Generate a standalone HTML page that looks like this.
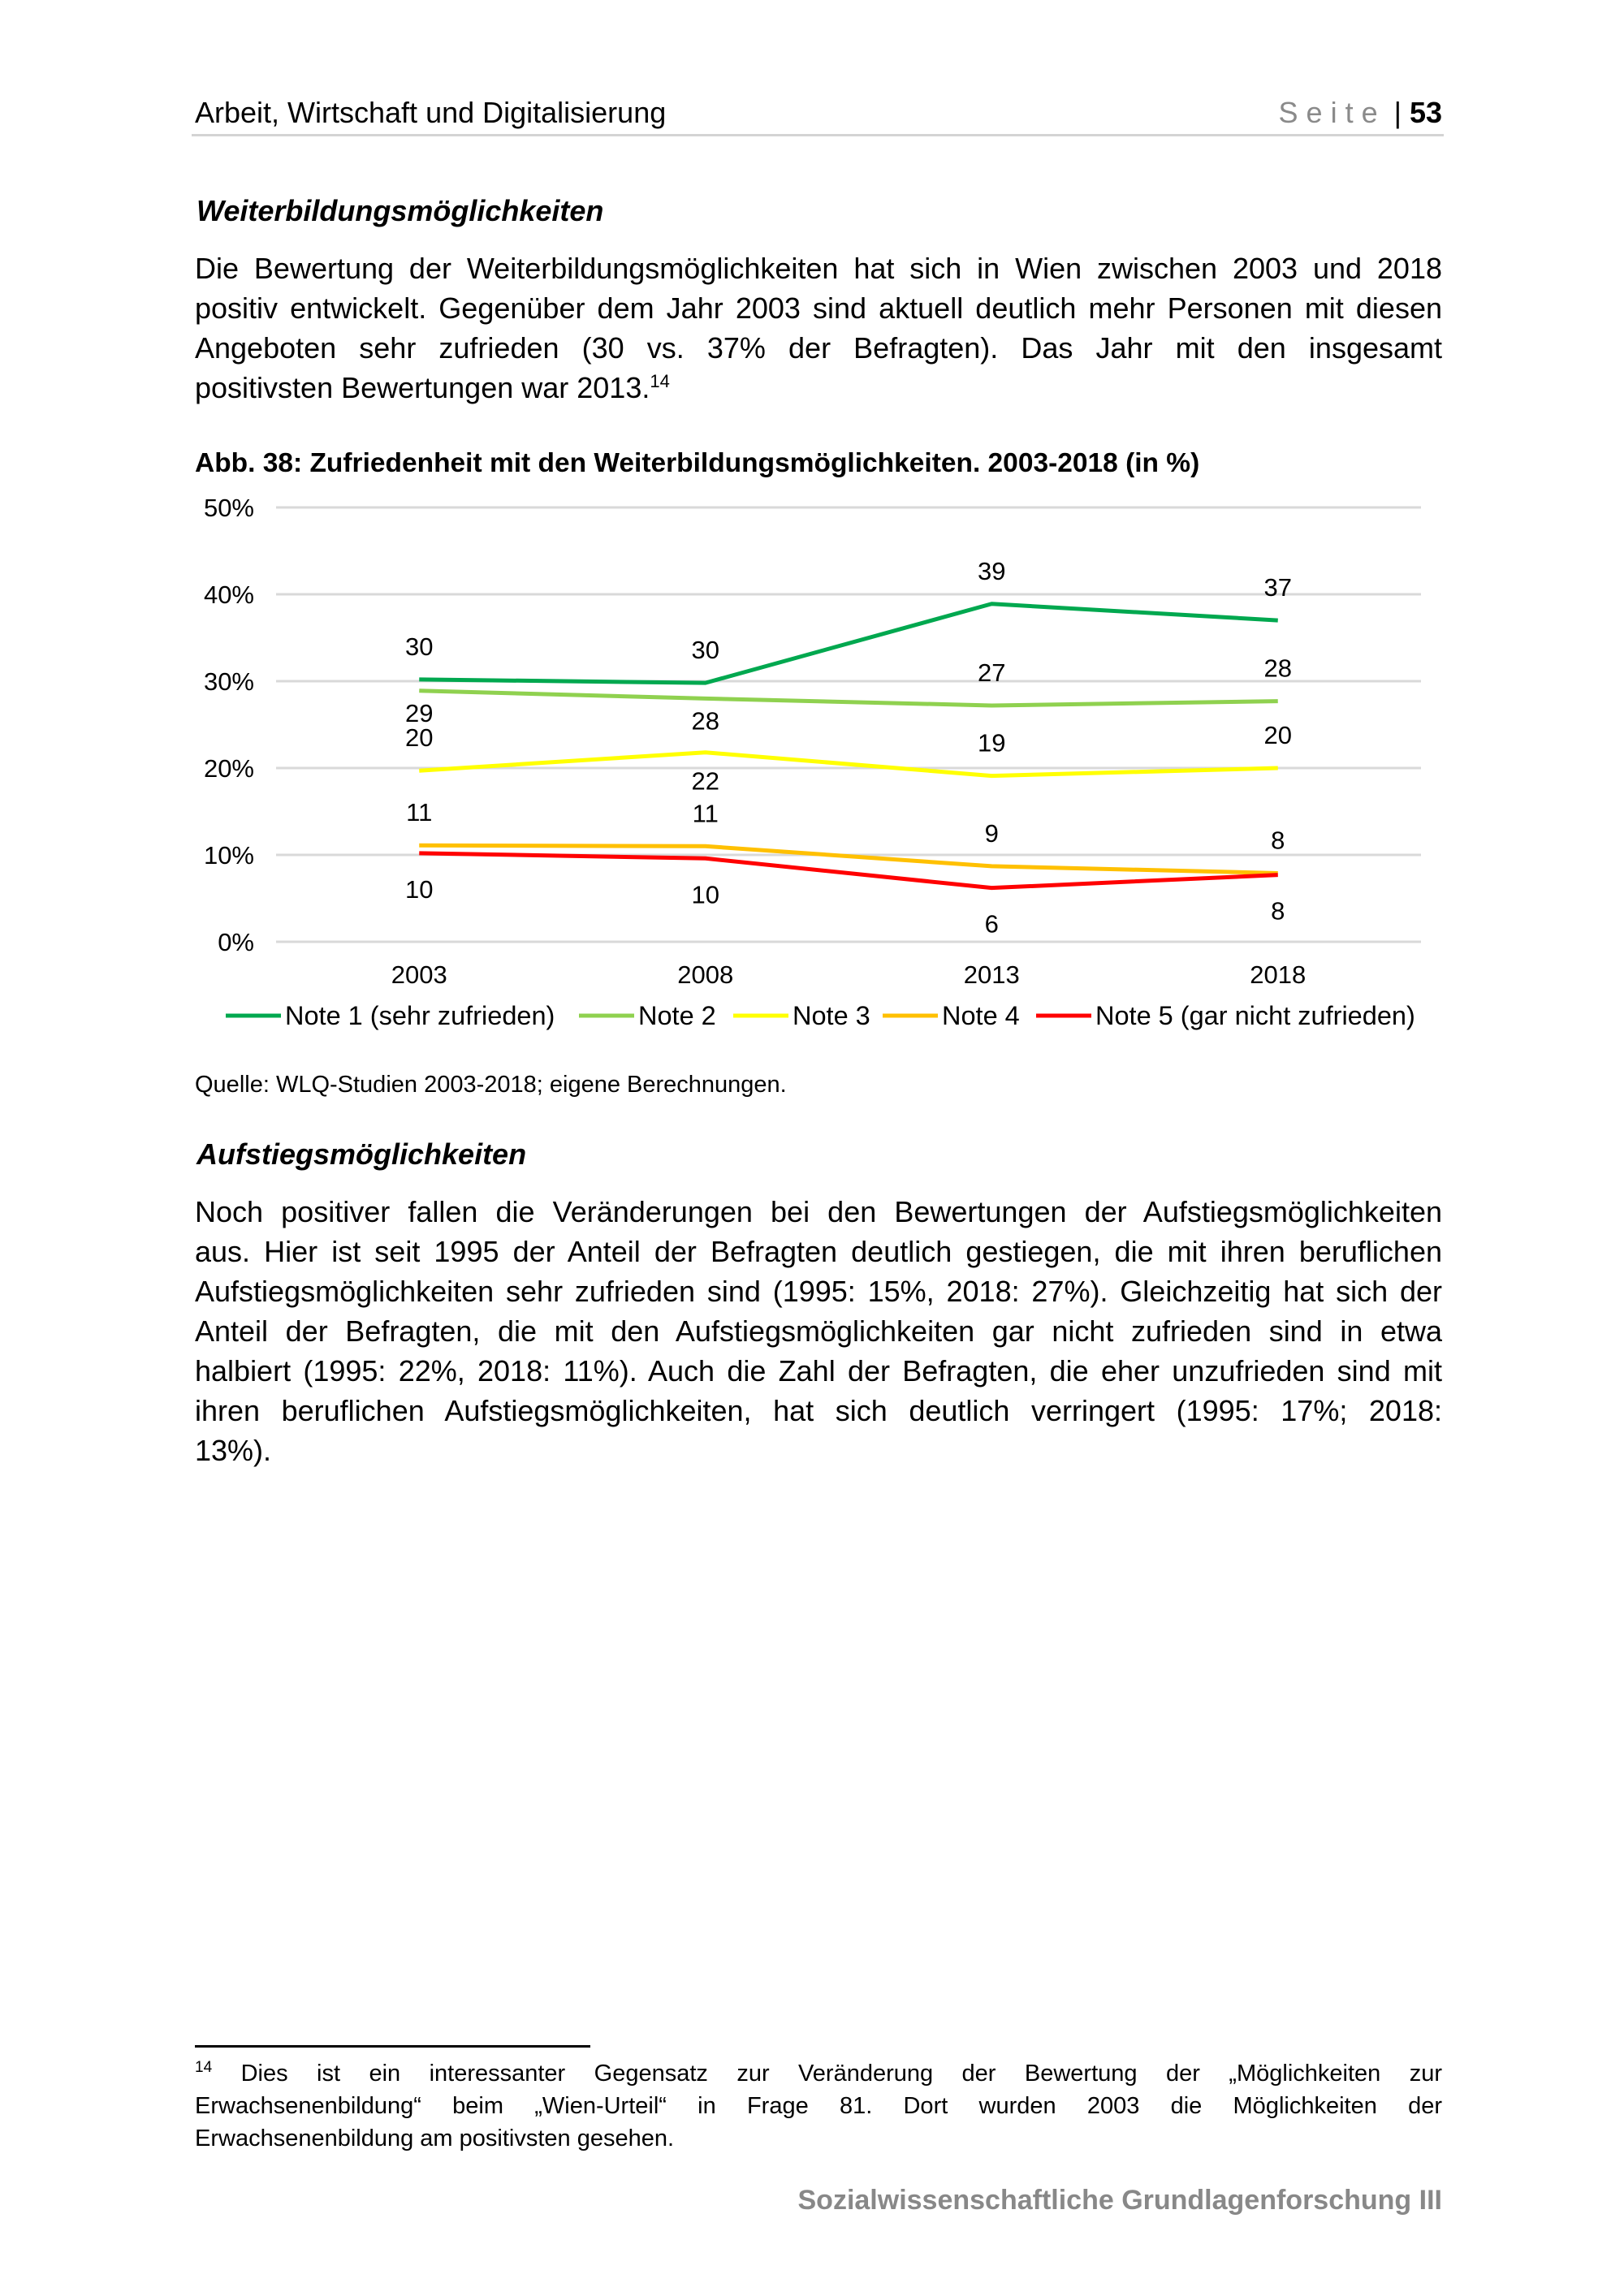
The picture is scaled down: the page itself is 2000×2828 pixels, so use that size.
<!DOCTYPE html>
<html><head><meta charset="utf-8">
<style>
html,body{margin:0;padding:0;background:#fff;}
body{width:2000px;height:2828px;position:relative;overflow:hidden;font-family:"Liberation Sans",Arial,sans-serif;color:#000;}
.a{position:absolute;white-space:nowrap;}
.j{position:absolute;left:240px;width:1536px;text-align:justify;text-align-last:justify;white-space:nowrap;font-size:36px;line-height:40px;}
.l{position:absolute;left:240px;font-size:36px;line-height:40px;white-space:nowrap;}
.f{position:absolute;left:240px;width:1536px;text-align:justify;text-align-last:justify;font-size:29px;line-height:34px;white-space:nowrap;}
sup{line-height:0;vertical-align:0;position:relative;top:-0.6em;}
</style></head><body>
<div class="a" style="left:240px;top:118px;font-size:36px;">Arbeit, Wirtschaft und Digitalisierung</div>
<div class="a" style="right:224px;top:118px;font-size:36px;"><span style="color:#8a8a8a;letter-spacing:10px;">Seite</span> | <b>53</b></div>
<div class="a" style="left:236px;top:165px;width:1542px;height:3px;background:#d4d4d4;"></div>

<div class="a" style="left:242px;top:239px;font-size:36px;font-weight:bold;font-style:italic;">Weiterbildungsmöglichkeiten</div>
<div>
<div class="j" style="top:311px;">Die Bewertung der Weiterbildungsmöglichkeiten hat sich in Wien zwischen 2003 und 2018</div>
<div class="j" style="top:360px;">positiv entwickelt. Gegenüber dem Jahr 2003 sind aktuell deutlich mehr Personen mit diesen</div>
<div class="j" style="top:409px;">Angeboten sehr zufrieden (30 vs. 37% der Befragten). Das Jahr mit den insgesamt</div>
<div class="l" style="top:458px;">positivsten Bewertungen war 2013.<sup style="font-size:22px;">14</sup></div>
</div>

<div class="a" style="left:240px;top:552px;font-size:33.5px;font-weight:bold;">Abb. 38: Zufriedenheit mit den Weiterbildungsmöglichkeiten. 2003-2018 (in %)</div>

<svg class="a" style="left:0;top:0;" width="2000" height="1300" id="chart"></svg>

<div class="a" style="left:240px;top:1320px;font-size:29px;">Quelle: WLQ-Studien 2003-2018; eigene Berechnungen.</div>

<div class="a" style="left:242px;top:1401px;font-size:36px;font-weight:bold;font-style:italic;">Aufstiegsmöglichkeiten</div>
<div>
<div class="j" style="top:1473px;">Noch positiver fallen die Veränderungen bei den Bewertungen der Aufstiegsmöglichkeiten</div>
<div class="j" style="top:1522px;">aus. Hier ist seit 1995 der Anteil der Befragten deutlich gestiegen, die mit ihren beruflichen</div>
<div class="j" style="top:1571px;">Aufstiegsmöglichkeiten sehr zufrieden sind (1995: 15%, 2018: 27%). Gleichzeitig hat sich der</div>
<div class="j" style="top:1620px;">Anteil der Befragten, die mit den Aufstiegsmöglichkeiten gar nicht zufrieden sind in etwa</div>
<div class="j" style="top:1669px;">halbiert (1995: 22%, 2018: 11%). Auch die Zahl der Befragten, die eher unzufrieden sind mit</div>
<div class="j" style="top:1718px;">ihren beruflichen Aufstiegsmöglichkeiten, hat sich deutlich verringert (1995: 17%; 2018:</div>
<div class="l" style="top:1767px;">13%).</div>
</div>

<div class="a" style="left:240px;top:2519px;width:487px;height:3px;background:#000;"></div>
<div>
<div class="f" style="top:2537px;"><sup style="font-size:19px;">14</sup> Dies ist ein interessanter Gegensatz zur Veränderung der Bewertung der „Möglichkeiten zur</div>
<div class="f" style="top:2577px;">Erwachsenenbildung“ beim „Wien-Urteil“ in Frage 81. Dort wurden 2003 die Möglichkeiten der</div>
<div class="a" style="left:240px;top:2617px;font-size:29px;line-height:34px;">Erwachsenenbildung am positivsten gesehen.</div>
</div>
<div class="a" style="right:224px;top:2691px;font-size:34px;font-weight:bold;color:#888;">Sozialwissenschaftliche Grundlagenforschung III</div>

<script>
const categories = ["2003","2008","2013","2018"];
const seriesNames = ["Note 1 (sehr zufrieden)","Note 2","Note 3","Note 4","Note 5 (gar nicht zufrieden)"];
const note1 = [30.2, 29.8, 38.9, 37.0];
const note2 = [28.9, 28.0, 27.2, 27.7];
const note3 = [19.7, 21.8, 19.1, 20.0];
const note4 = [11.1, 11.0, 8.7, 7.9];
const note5 = [10.2, 9.6, 6.2, 7.7];
const label1 = ["30","30","39","37"];
const label2 = ["29","28","27","28"];
const label3 = ["20","22","19","20"];
const label4 = ["11","11","9","8"];
const label5 = ["10","10","6","8"];
const yTicks = [0,10,20,30,40,50];

const colors = ["#00a84f","#8fd14f","#ffff00","#ffc000","#ff0000"];
const series = [note1,note2,note3,note4,note5];
const labels = [label1,label2,label3,label4,label5];
const place = [[-1,-1,-1,-1],[1,1,-1,-1],[-1,1,-1,-1],[-1,-1,-1,-1],[1,1,1,1]];

const NS="http://www.w3.org/2000/svg";
const svg=document.getElementById('chart');
const x0=340,x1=1750,y0=1160,y1=625;
const band=(x1-x0)/categories.length;
const X=i=>x0+band*(i+0.5);
const Y=v=>y0-(v/50)*(y0-y1);
function mk(t,a){const e=document.createElementNS(NS,t);for(const k in a)e.setAttribute(k,a[k]);svg.appendChild(e);return e;}

yTicks.forEach(t=>{
  const g=mk('line',{x1:x0,x2:x1,y1:Y(t),y2:Y(t),stroke:'#d9d9d9','stroke-width':3});
  
  
  const tx=mk('text',{x:313,y:Y(t)+11,'text-anchor':'end','font-size':31,'font-family':'Liberation Sans, Arial, sans-serif'});
  tx.textContent=t+'%';
  
  
});
categories.forEach((c,i)=>{
  const tx=mk('text',{x:X(i),y:1211,'text-anchor':'middle','font-size':31,'font-family':'Liberation Sans, Arial, sans-serif'});
  tx.textContent=c;
  
  
});
series.forEach((s,k)=>{
  const p=mk('polyline',{points:s.map((v,i)=>X(i)+','+Y(v)).join(' '),fill:'none',stroke:colors[k],'stroke-width':5,'stroke-linejoin':'round'});
  
  
  s.forEach((v,i)=>{
    const off=place[k][i]<0?-30:(k===4?55:(k===2?46:38));
    const tx=mk('text',{x:X(i),y:Y(v)+off,'text-anchor':'middle','font-size':31,'font-family':'Liberation Sans, Arial, sans-serif'});
    tx.textContent=labels[k][i];
    
    
  });
});
const legX=[278,713,903,1087,1276];
seriesNames.forEach((n,k)=>{
  const l=mk('line',{x1:legX[k],x2:legX[k]+68,y1:1251,y2:1251,stroke:colors[k],'stroke-width':5});
  
  
  const tx=mk('text',{x:legX[k]+73,y:1262,'font-size':32.5,'font-family':'Liberation Sans, Arial, sans-serif'});
  tx.textContent=n;
  
  
});
</script>
</body></html>
